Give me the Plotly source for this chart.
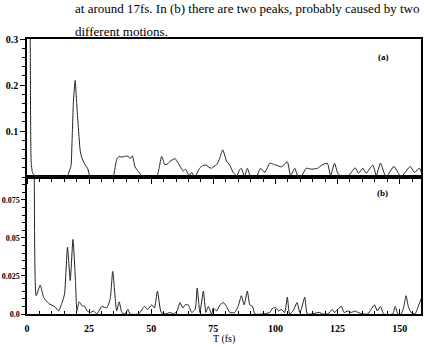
import plotly.graph_objects as go

# ---- data ----
t_a = [0, 0.8, 1.3, 1.7, 2.3, 3.4, 4.7, 8, 12, 16.1, 16.7, 17.7, 18.1, 18.7, 19.4, 20.0, 20.5, 21.4, 22.0,
       23.4, 24.4, 25.3, 26.5, 30, 34, 34.8, 36.1, 37.1, 38.0, 39.4, 40.8, 41.5, 42.4, 43.5, 44.8, 46.2,
       47.5, 52.2, 53.2, 54.2, 55.5, 56.5, 57.5, 59.6, 60.9, 62.9, 63.8, 65.2, 66.3, 67.5, 69.6, 70.9,
       72.3, 73.0, 74.3, 75.0, 76.5, 77.5, 78.8, 80.3, 81.6, 83.0, 84.5, 85.5, 86.3, 87.5, 88.7, 90.0,
       92.3, 94.0, 95.7, 97.7, 99.0, 100.3, 102.4, 104.8, 106.1, 107.8, 109.0, 110.4, 112.4, 114.4,
       117.0, 118.7, 120.9, 122.2, 123.8, 125.1, 127.0, 129.0, 132.1, 133.4, 135.2, 136.5, 139.2,
       140.6, 142.3, 144.5, 147.7, 149.3, 150.6, 152.2, 154.3, 155.9, 158.0, 159.3]
v_a = [1.0, 0.6, 0.3, 0.03, 0.008, 0.002, 0, 0, 0, 0, 0.008, 0.024, 0.072, 0.165, 0.21, 0.16, 0.12, 0.058, 0.043,
       0.026, 0.019, 0.002, 0, 0, 0, 0.003, 0.038, 0.045, 0.043, 0.045, 0.045, 0.04, 0.046, 0.022, 0.012, 0.003,
       0, 0, 0.02, 0.045, 0.027, 0.028, 0.034, 0.04, 0.03, 0.013, 0.017, 0.003, 0.01, 0, 0.02, 0.025,
       0.026, 0.022, 0.019, 0.022, 0.028, 0.04, 0.059, 0.035, 0.026, 0.01, 0.002, 0.015, 0.019, 0.001, 0.019, 0.001,
       0, 0.019, 0.01, 0.03, 0.028, 0.026, 0.022, 0.033, 0.003, 0.019, 0.001, 0.001, 0.019, 0.017,
       0.019, 0.026, 0.03, 0.003, 0.03, 0.008, 0, 0, 0.02, 0.008, 0.019, 0.008, 0.026,
       0.003, 0.03, 0, 0.023, 0.01, 0, 0.01, 0.023, 0.01, 0.019, 0]

t_b = [0, 2.0, 2.9, 3.7, 5.3, 6.7, 8.7, 11.4, 12.7, 14.1, 15.1, 16.3, 17.4, 18.5, 19.5, 20.1, 21.0, 22.1,
       23.2, 24.2, 25.5, 26.8, 28.1, 30.1, 32.1, 33.5, 34.5, 36.1, 37.1, 38.2, 39.5, 40.6, 41.5, 44.9,
       47.3, 48.6, 50.2, 51.3, 52.5, 54.0, 55.6, 57.7, 59.0, 60.4, 61.6, 62.7, 63.6, 64.9, 66.3, 67.7,
       68.5, 69.6, 71.0, 72.0, 73.0, 74.3, 75.0, 76.3, 77.7, 79.0, 80.3, 81.6, 83.6, 85.0, 86.3, 87.4,
       88.7, 89.7, 90.8, 91.7, 95.0, 97.7, 99.0, 100.3, 101.3, 102.4, 103.7, 104.8, 105.7, 107.1, 108.7,
       109.8, 110.4, 111.8, 112.8, 114.4, 117.8, 119.0, 121.1, 122.9, 123.8, 125.1, 126.5, 127.6, 129.2,
       130.5, 132.1, 133.2, 135.2, 137.2, 138.5, 139.9, 141.0, 142.3, 143.6, 147.2, 148.2, 149.3, 150.6,
       151.7, 152.6, 153.5, 154.6, 156.2, 157.5, 158.9, 159.5]
v_b = [1.0, 0.3, 0.095, 0.012, 0.019, 0.011, 0.007, 0.0045, 0.002, 0.0075, 0.013, 0.044, 0.022, 0.049, 0.022,
       0.002, 0.008, 0.0055, 0.005, 0.002, 0.001, 0.002, 0, 0.005, 0.004, 0.01, 0.028, 0.002, 0.008, 0.001, 0,
       0.003, 0, 0, 0.005, 0.003, 0.006, 0.004, 0.015, 0.001, 0, 0.001, 0, 0.002, 0.0075, 0.004, 0.006, 0.006,
       0.001, 0.003, 0.017, 0.001, 0.015, 0.001, 0.005, 0, 0.004, 0.002, 0.006, 0.0075, 0.005, 0.001, 0.001,
       0.005, 0.012, 0.006, 0.015, 0.006, 0.005, 0, 0, 0.001, 0.004, 0.004, 0.002, 0.003, 0.001, 0.011, 0,
       0.002, 0.0075, 0.001, 0.003, 0.011, 0, 0, 0.001, 0, 0, 0.003, 0.001, 0.003, 0.005, 0.001, 0.002,
       0.001, 0.002, 0.001, 0, 0, 0.003, 0.006, 0.002, 0.005, 0, 0, 0.005, 0, 0, 0.005, 0.012, 0.005,
       0.001, 0, 0.005, 0.011, 0.013]

x_ticks = [0, 25, 50, 75, 100, 125, 150]
ya_ticks = [0.1, 0.2, 0.3]
ya_text = ["0.1", "0.2", "0.3"]
yb_ticks = [0, 0.025, 0.05, 0.075]
yb_text = ["0.0", "0.025", "0.05", "0.075"]

caption1 = "at around 17fs. In (b) there are two peaks, probably caused by two"
caption2 = "different motions."

SERIF = "Liberation Serif"
W, H = 424, 346
L, R, T, B = 27, 3, 39, 32
plot_h = H - T - B
split = (314 - 177) / plot_h

fig = go.Figure()
fig.add_trace(go.Scatter(x=t_a, y=v_a, mode="lines", xaxis="x2", yaxis="y2",
                         line=dict(color="#222", width=1, shape="spline", smoothing=0.5),
                         showlegend=False, hoverinfo="skip"))
fig.add_trace(go.Scatter(x=t_b, y=v_b, mode="lines", xaxis="x", yaxis="y",
                         line=dict(color="#222", width=1, shape="spline", smoothing=0.5),
                         showlegend=False, hoverinfo="skip"))

tickfont = dict(family=SERIF, size=10, color="black", weight="bold")
tickfont_b = dict(family=SERIF, size=8, color="black", weight="bold")
axline = dict(showline=True, linecolor="black", linewidth=1.5, mirror=True,
              showgrid=False, zeroline=False, automargin=False)

fig.update_layout(
    width=W, height=H,
    margin=dict(l=L, r=R, t=T, b=B),
    paper_bgcolor="white", plot_bgcolor="white",
    xaxis=dict(domain=[0, 1], range=[0, 158.6], tickvals=x_ticks, ticks="inside", ticklen=5,
               tickwidth=1, tickcolor="black", tickfont=tickfont, ticklabelstandoff=4,
               minor=dict(dtick=5, ticks="inside", ticklen=3, tickcolor="black"),
               anchor="y", **axline),
    yaxis=dict(domain=[0, split], range=[0, 0.09], tickvals=yb_ticks, ticktext=yb_text,
               ticks="outside", ticklen=4, tickwidth=1, tickcolor="black", tickfont=tickfont_b,
               ticklabelstandoff=0,
               minor=dict(dtick=0.005, ticks="outside", ticklen=3, tickcolor="black"),
               anchor="x", **axline),
    xaxis2=dict(domain=[0, 1], range=[0, 158.6], tickvals=x_ticks, ticks="outside", ticklen=5,
                tickwidth=1, tickcolor="black", showticklabels=False,
                minor=dict(dtick=5, ticks="outside", ticklen=3, tickcolor="black"),
                anchor="y2", matches="x", **axline),
    yaxis2=dict(domain=[split, 1], range=[0, 0.3], tickvals=ya_ticks, ticktext=ya_text,
                ticks="outside", ticklen=5, tickwidth=1, tickcolor="black", tickfont=tickfont,
                minor=dict(dtick=0.02, ticks="outside", ticklen=3, tickcolor="black"),
                anchor="x2", **axline),
)

def px_x(p):
    return (p - L) / (W - L - R)

def px_y(p):
    return (H - B - p) / plot_h

fig.add_annotation(text=caption1, xref="paper", yref="paper", x=px_x(73), y=px_y(9),
                   xanchor="left", yanchor="middle", showarrow=False,
                   font=dict(family=SERIF, size=13, color="black"))
fig.add_annotation(text=caption2, xref="paper", yref="paper", x=px_x(73), y=px_y(31),
                   xanchor="left", yanchor="middle", showarrow=False,
                   font=dict(family=SERIF, size=13, color="black"))
fig.add_annotation(text="(a)", xref="paper", yref="paper", x=px_x(383), y=px_y(57),
                   xanchor="center", yanchor="middle", showarrow=False,
                   font=dict(family=SERIF, size=9, color="black", weight="bold"))
fig.add_annotation(text="(b)", xref="paper", yref="paper", x=px_x(382), y=px_y(193),
                   xanchor="center", yanchor="middle", showarrow=False,
                   font=dict(family=SERIF, size=9, color="black", weight="bold"))
fig.add_annotation(text="T (fs)", xref="paper", yref="paper", x=0.5, y=px_y(339),
                   xanchor="center", yanchor="middle", showarrow=False,
                   font=dict(family=SERIF, size=10, color="black"))

fig.write_html("out.html")
